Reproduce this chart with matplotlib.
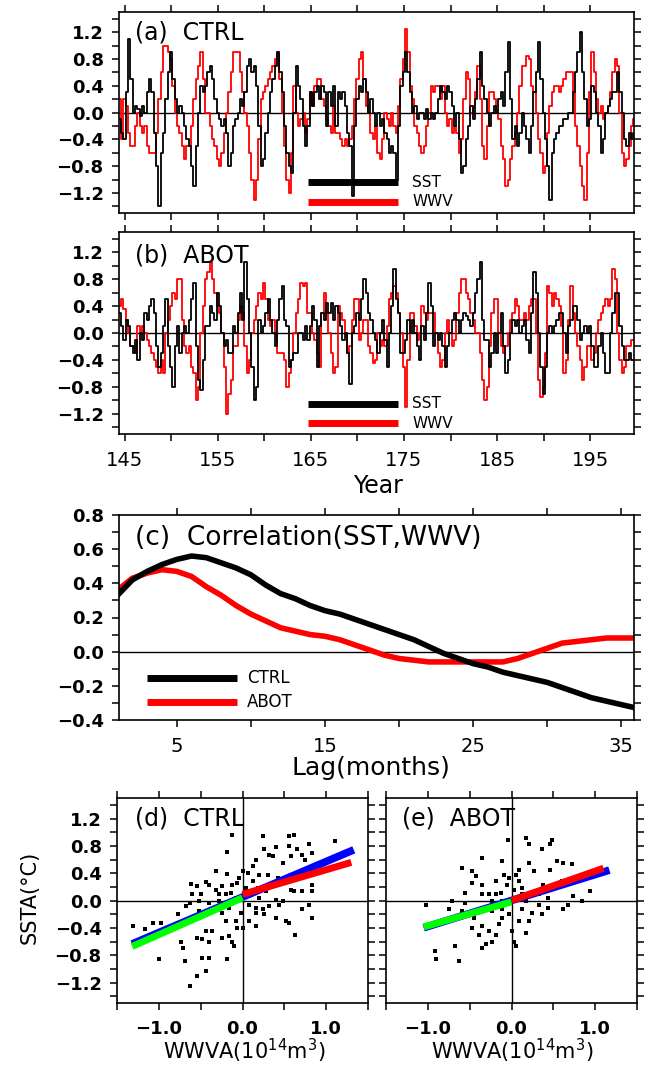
import numpy as np
import matplotlib
matplotlib.use("Agg")
import matplotlib.pyplot as plt

plt.rcParams['font.family'] = ['DejaVu Sans']

# ---------------- data ----------------
# quarterly anomalies, first sample at year 144.5
year_start = 144.5
year_step = 0.25

ctrl_sst = [
    -0.1, -0.3,
    -0.4, 0.3, 1.1, 0.5,    0.0, 0.1, 0.05, -0.05,  0.1, 0.0, 0.3, 0.5,
    0.3, -0.3, -0.8, -1.4,  -0.6, -0.3, 0.2, 0.6,   0.9, 0.5, 0.2, 0.0,
    0.1, 0.0, -0.2, -0.4,   -0.5, -0.8, -1.1, -0.5, 0.0, 0.4, 0.3, 0.4,
    0.6, 0.7, 0.5, 0.2,     0.0, -0.1, -0.2, -0.1,  -0.3, -0.8, -0.6, -0.2,
    -0.1, 0.0, 0.2, 0.1,    0.3, 0.7, 0.8, 0.6,     0.7, 0.4, -0.2, -0.8,
    -0.7, -0.3, 0.0, 0.3,   0.5, 0.7, 0.9, 0.6,     0.3, -0.2, -0.6, -0.8,
    -0.9, 0.0, 0.7, 0.4,    0.2, -0.2, -0.5, -0.2,  0.3, 0.1, 0.3, 0.4,
    0.2, 0.4, 0.3, -0.2,    0.3, 0.1, 0.4, -0.2,    0.3, 0.2, 0.3, 0.1,
    -0.3, -0.5, -1.25, -0.2, 0.2, 0.4, 0.3, 0.5,    0.3, 0.0, 0.2, 0.0,
    -0.2, 0.0, -0.2, -0.1,  -0.3, -0.4, -0.6, -0.5, -0.6, -1.0, -0.2, 0.4,
    0.6, 0.9, 0.6, 0.3,     0.0, 0.1, -0.1, 0.0,    0.0, -0.1, 0.05, -0.1,
    0.0, -0.1, 0.0, 0.2,    0.4, 0.3, 0.2, 0.4,     0.3, 0.1, -0.2, 0.0,
    -0.4, -0.9, -0.8, -0.4, -0.2, 0.1, -0.1, 0.2,   0.5, 0.9, 0.4, 0.2,
    0.0, -0.2, 0.0, 0.1,    0.0, 0.2, 0.3, 0.1,     0.6, 1.05, 0.2, -0.4,
    -0.2, -0.5, -0.3, 0.0,  -0.2, -0.4, -0.6, -0.2, 0.3, 0.6, 1.05, 0.5,
    0.0, -0.4, -0.8, -1.3,  -0.6, -0.4, -0.3, -0.2, -0.2, -0.1, -0.1, 0.0,
    0.0, 0.3, 0.6, 0.9,     1.2, 0.6, 0.2, -0.2,    -0.1, 0.4, 0.3, 0.0,
    -0.2, -0.6, -0.4, 0.0,  0.1, 0.2, 0.3, 0.3,     0.6, 0.3, 0.0, -0.4,
    -0.5, -0.3, -0.4, -0.3,
]

ctrl_wwv = [
    0.2, -0.4,
    0.2, 0.1, -0.3, -0.5,   -0.5, -0.2, 0.0, -0.2,  -0.3, -0.2, -0.5, -0.6,
    -0.6, -0.6, -0.3, 0.2,  0.6, 1.0, 1.0, 0.9,     0.8, 0.4, 0.0, -0.2,
    -0.3, -0.5, -0.7, -0.5, -0.5, -0.2, 0.2, 0.5,   0.7, 0.9, 0.5, 0.0,
    0.0, -0.2, -0.4, -0.5,  -0.7, -0.8, -0.6, -0.3, 0.0, 0.3, 0.6, 0.9,
    0.9, 0.9, 0.6, 0.3,     0.0, -0.2, -0.6, -1.0,  -1.3, -1.0, -0.4, 0.2,
    0.3, 0.4, 0.5, 0.6,     0.7, 0.8, 0.9, 0.5,     0.0, -0.5, -1.0, -1.2,
    -0.6, 0.4, 0.0, -0.2,   -0.1, 0.0, -0.3, -0.1,  0.3, 0.1, 0.4, 0.5,
    0.5, 0.2, 0.1, -0.1,    -0.2, -0.3, 0.1, -0.3,  -0.3, -0.4, -0.5, -0.4,
    -0.5, -0.4, -0.2, 0.2,  0.5, 0.8, 0.9, 0.5,     0.1, 0.0, -0.3, -0.4,
    -0.2, -0.6, -0.7, -0.4, 0.0, -0.1, -0.2, 0.0,   -0.2, -0.3, 0.1, 0.5,
    0.8, 1.25, 0.9, 0.4,    0.2, -0.2, -0.3, -0.5,  -0.6, -0.5, -0.2, 0.0,
    0.4, 0.3, 0.4, 0.4,     0.2, 0.4, 0.0, -0.2,    -0.1, -0.3, -0.2, -0.3,
    -0.6, -0.4, 0.2, 0.6,   0.5, 0.0, 0.1, 0.3,     0.7, 0.2, -0.5, -0.7,
    -0.2, 0.3, 0.3, 0.2,    0.0, -0.1, -0.5, -0.7,  -1.1, -1.0, -0.7, -0.5,
    -0.3, 0.0, 0.4, 0.7,    0.7, 0.85, 0.8, 0.4,    0.3, 0.0, -0.4, -0.6,
    -0.9, -0.8, -0.3, 0.1,  0.3, 0.4, 0.4, 0.3,     0.4, 0.5, 0.6, 0.6,
    0.6, 0.3, -0.2, -0.5,   -0.8, -1.1, -1.3, -0.6, 0.3, 0.9, 0.6, 0.2,
    0.0, 0.1, -0.1, 0.0,    0.1, 0.3, 0.6, 0.8,     0.7, 0.0, -0.6, -0.8,
    -0.7, -0.5, -0.2, -0.1,
]

abot_sst = [
    0.3, 0.1,
    -0.1, 0.2, 0.1, -0.2,   -0.3, -0.1, -0.4, 0.0,  -0.1, 0.3, 0.2, 0.4,
    0.5, 0.3, -0.2, -0.5,   -0.3, 0.1, 0.5, -0.2,   -0.5, -0.8, -0.2, 0.1,
    -0.3, 0.0, 0.1, 0.0,    0.2, 0.5, 0.75, -0.2,   -0.7, -0.85, -0.4, 0.1,
    0.1, 0.4, 0.3, 0.2,     0.6, 0.4, 0.0, -0.2,    -0.1, -0.3, -0.3, 0.1,
    0.0, 0.3, 0.6, 0.2,     1.05, 0.5, 0.0, -0.5,   -1.0, -0.8, 0.2, 0.0,
    0.1, 0.3, 0.5, 0.2,     0.0, -0.2, 0.2, 0.5,    0.7, 0.2, 0.1, -0.5,
    -0.4, -0.3, -0.3, 0.0,  0.0, -0.1, 0.1, -0.1,   0.1, 0.4, 0.2, -0.5,
    0.1, 0.3, 0.2, 0.45,    0.3, 0.45, 0.2, 0.4,    0.3, 0.1, -0.1, 0.0,
    -0.3, -0.75, 0.0, 0.1,  0.3, 0.2, 0.5, 0.8,     0.6, 0.3, 0.2, 0.0,
    -0.1, -0.3, 0.0, 0.2,   -0.1, -0.5, 0.0, 0.4,   0.95, 0.5, 0.3, -0.3,
    -0.3, -0.1, 0.2, 0.0,   0.2, 0.0, -0.2, -0.4,   0.1, -0.1, 0.3, 0.75,
    0.4, -0.2, 0.0, -0.1,   0.0, -0.2, -0.5, -0.2,  0.0, 0.2, 0.3, 0.2,
    0.0, 0.2, 0.3, 0.25,    0.2, 0.1, 0.3, 0.6,     0.8, 1.05, 0.2, -0.1,
    -0.1, -0.5, -0.3, 0.0,  -0.3, 0.0, 0.3, -0.2,   -0.6, -0.4, 0.0, 0.2,
    0.1, 0.2, 0.0, 0.1,     0.2, -0.1, -0.3, 0.3,   0.9, 0.6, 0.0, -0.5,
    -0.9, -0.5, 0.0, 0.1,   0.0, 0.1, 0.2, 0.3,     0.3, 0.0, -0.3, 0.1,
    0.2, 0.4, 0.4, 0.2,     -0.1, 0.0, 0.1, 0.0,    0.1, -0.2, -0.5, -0.5,
    -0.2, 0.0, -0.3, -0.6,  -0.6, 0.0, 0.3, 0.6,    0.6, 0.1, -0.2, -0.4,
    -0.4, -0.3, -0.4, -0.4,
]

abot_wwv = [
    0.4, 0.5,
    0.35, 0.2, 0.0, -0.2,   -0.2, -0.3, 0.1, 0.0,   0.1, 0.0, -0.1, -0.2,
    -0.3, -0.4, -0.5, -0.6, -0.4, -0.6, 0.0, 0.2,   0.4, 0.6, 0.5, 0.8,
    0.8, 0.2, -0.2, -0.3,   -0.2, -0.5, -0.6, -1.0, -0.8, 0.0, 0.4, 0.8,
    0.9, 1.05, 0.8, 0.6,    0.4, 0.3, 0.0, -0.5,    -1.2, -0.9, -0.7, -0.2,
    -0.2, 0.2, 0.4, 0.3,    -0.2, -0.6, -0.4, 0.0,  0.2, 0.4, 0.6, 0.5,
    0.75, 0.5, 0.2, 0.1,    0.2, 0.0, -0.3, -0.3,   -0.3, -0.4, -0.8, -0.6,
    -0.4, 0.0, 0.3, 0.5,    0.75, 0.7, 0.75, 0.3,   0.3, 0.0, -0.1, -0.3,
    -0.5, 0.3, 0.6, 0.3,    0.0, -0.3, -0.6, -0.5,  0.4, 0.3, 0.2, 0.0,
    -0.3, -0.2, 0.2, 0.5,   0.5, -0.1, 0.0, 0.2,    0.2, -0.2, -0.3, -0.45,
    -0.4, 0.0, -0.2, -0.1,  -0.2, 0.1, 0.5, 0.6,    0.7, 0.6, 0.3, 0.0,
    -0.5, -1.1, -0.4, 0.3,  0.3, 0.1, -0.1, 0.0,    0.4, 0.3, 0.2, 0.3,
    0.3, 0.3, 0.0, -0.3,    -0.5, -0.4, 0.0, 0.2,   0.0, -0.2, -0.1, 0.3,
    0.6, 0.8, 0.8, 0.6,     0.5, 0.3, 0.2, 0.0,     0.0, -0.3, -0.7, -1.0,
    -0.8, -0.2, 0.3, 0.5,   0.5, 0.0, -0.2, -0.3,   -0.2, 0.0, 0.2, 0.3,
    0.5, 0.4, 0.2, 0.2,     0.3, 0.2, 0.4, 0.5,     0.5, 0.0, -0.7, -0.95,
    -0.8, -0.3, 0.7, 0.6,   0.4, 0.6, 0.5, 0.4,     0.1, -0.6, -0.4, 0.2,
    0.7, 0.3, 0.0, -0.2,    -0.4, -0.7, -0.5, -0.2, -0.2, -0.4, -0.3, 0.0,
    0.2, 0.3, 0.4, 0.5,     0.4, 0.5, 0.95, 0.8,    0.0, -0.4, -0.6, -0.5,
    -0.2, -0.2, -0.1, -0.1,
]

year_ticks = [145, 150, 155, 160, 165, 170, 175, 180, 185, 190, 195]
year_ticklabels = ['145', '', '155', '', '165', '', '175', '', '185', '', '195']

# anomaly axis ticks shared by panels a, b, d, e
anom_ticks = [-1.4, -1.2, -1.0, -0.8, -0.6, -0.4, -0.2, 0.0,
              0.2, 0.4, 0.6, 0.8, 1.0, 1.2, 1.4]
anom_ticklabels = ['', '\u22121.2', '', '\u22120.8', '', '\u22120.4', '', '0.0',
                   '', '0.4', '', '0.8', '', '1.2', '']

# lagged correlation SST vs WWV, lags 1..36 months
lags = list(range(1, 37))
corr_ctrl = [0.33, 0.42, 0.47, 0.51, 0.54, 0.56, 0.55, 0.52, 0.49, 0.45,
             0.39, 0.34, 0.31, 0.27, 0.24, 0.22, 0.19, 0.16, 0.13, 0.10,
             0.07, 0.03, -0.01, -0.04, -0.07, -0.09, -0.12, -0.14, -0.16, -0.18,
             -0.21, -0.24, -0.27, -0.29, -0.31, -0.33]
corr_abot = [0.36, 0.43, 0.46, 0.48, 0.47, 0.44, 0.38, 0.33, 0.27, 0.22,
             0.18, 0.14, 0.12, 0.10, 0.09, 0.07, 0.04, 0.01, -0.02, -0.04,
             -0.05, -0.06, -0.06, -0.06, -0.06, -0.06, -0.06, -0.04, -0.01, 0.02,
             0.05, 0.06, 0.07, 0.08, 0.08, 0.08]
lag_ticks = [5, 10, 15, 20, 25, 30, 35]
lag_ticklabels = ['5', '', '15', '', '25', '', '35']
corr_ticks = [-0.4, -0.3, -0.2, -0.1, 0.0, 0.1, 0.2, 0.3, 0.4, 0.5, 0.6, 0.7, 0.8]
corr_ticklabels = ['\u22120.4', '', '\u22120.2', '', '0.0', '', '0.2', '',
                   '0.4', '', '0.6', '', '0.8']

# scatter: WWV anomaly vs SST anomaly
d_wwva = [1.11, 0.62, 0.56, 0.24, -0.12, -0.18, 0.26, 0.32, 0.36, 0.40,
          0.56, 0.65, 0.71, 0.79, 0.83, 0.75, 0.58, 0.48, 0.16, 0.12,
          0.06, 0.20, 0.30, 0.42, -0.32, -0.18, -0.44, -0.40, -0.62, -0.54,
          -0.32, -0.24, -0.12, -0.06, -0.28, -0.20, -0.14, -0.63, -0.52, -0.40,
          -0.08, 0.08, 0.16, 0.24, 0.32, 0.44, 0.79, 0.71, 0.83, 0.62,
          0.58, 0.83, 0.26, 0.40, 0.52, 0.63, 0.56, 0.08, 0.16, 0.00,
          -0.08, -0.20, -0.16, -0.10, -0.24, -0.36, -0.44, -0.48, -0.40, -0.54,
          -0.71, -0.73, -0.77, -0.83, -0.97, -1.07, -1.17, -1.31, -1.00, -0.69,
          -0.48, -0.40, -0.18, -0.44, -0.54, -0.63, 0.83, 0.71, 0.12, 0.04,
          0.18, 0.28, -0.04, 0.00, -0.28, -0.36, -0.52, -0.24, 0.08, 0.20,
          0.40, 0.16, -0.02, -0.16, -0.67, -0.50, -0.60, 0.48, -0.06, -0.12]
d_ssta = [0.87, 0.96, 0.94, 0.94, 0.96, 0.71, 0.75, 0.67, 0.65, 0.78,
          0.80, 0.75, 0.67, 0.82, 0.70, 0.60, 0.65, 0.55, 0.60, 0.50,
          0.40, 0.38, 0.38, 0.33, 0.43, 0.39, 0.27, 0.23, 0.24, 0.21,
          0.16, 0.21, 0.23, 0.26, 0.09, 0.09, 0.11, -0.03, -0.01, -0.03,
          0.04, -0.06, -0.11, -0.13, -0.08, -0.06, -0.06, -0.13, -0.25, 0.14,
          0.16, 0.23, -0.20, -0.25, -0.30, -0.50, -0.33, -0.30, -0.38, -0.40,
          -0.30, -0.30, -0.52, -0.67, -0.55, -0.45, -0.45, -0.57, -0.60, -0.55,
          -0.69, -0.60, -0.20, -0.38, -0.33, -0.33, -0.42, -0.38, -0.85, -0.88,
          -0.84, -0.84, -0.86, -1.03, -1.11, -1.25, 0.14, 0.14, 0.28, 0.19,
          0.19, 0.14, 0.33, 0.43, -0.01, -0.13, -0.16, -0.18, 0.09, 0.04,
          0.01, -0.18, -0.18, -0.11, -0.08, 0.09, 0.09, -0.01, -0.40, -0.60]

e_wwva = [-0.04, 0.17, 0.21, 0.48, 0.37, 0.46, -0.11, -0.35, -0.59, 0.21,
          0.27, 0.54, 0.62, 0.72, 0.46, -0.43, -0.47, -0.35, -0.55, -0.71,
          -1.02, -0.19, -0.09, -0.03, 0.05, 0.09, -0.05, 0.03, -0.13, -0.27,
          0.38, 0.48, 0.60, 0.94, 0.74, 0.62, 0.44, 0.33, 0.25, 0.13,
          0.09, -0.03, -0.11, -0.23, -0.35, -0.45, -0.35, -0.27, -0.19, -0.31,
          -0.35, 0.03, 0.05, 0.17, 0.01, -0.67, -0.92, -0.90, -0.63, -0.47,
          -0.15, 0.21, 0.37, 0.68, 0.13, 0.25, -0.55, -0.11, -0.23, -0.59,
          -0.75, -0.19, 0.17, 0.33, 0.44, 0.84, 0.13, -0.11, -0.39, -0.23,
          -0.47, -0.35, 0.09]
e_ssta = [0.89, 0.92, 0.82, 0.89, 0.75, 0.82, 0.58, 0.62, 0.48, 0.55,
          0.43, 0.58, 0.55, 0.53, 0.45, 0.36, 0.26, 0.23, 0.11, -0.01,
          -0.06, 0.28, 0.38, 0.33, 0.38, 0.28, 0.23, 0.16, 0.11, 0.09,
          0.23, 0.19, 0.28, 0.14, 0.06, -0.13, -0.11, -0.06, -0.18, -0.13,
          -0.30, -0.20, -0.13, -0.16, -0.11, -0.25, -0.38, -0.45, -0.50, -0.64,
          -0.69, -0.60, -0.67, -0.47, -0.45, -0.67, -0.74, -0.86, -0.89, -0.40,
          -0.35, -0.30, -0.20, -0.06, 0.09, 0.11, -0.03, -0.01, -0.01, -0.16,
          -0.13, 0.09, -0.01, 0.09, 0.04, -0.01, 0.19, -0.25, -0.50, -0.60,
          0.43, 0.09, 0.45]

wwva_ticks = [-1.5, -1.0, -0.5, 0.0, 0.5, 1.0, 1.5]
wwva_ticklabels = ['', '\u22121.0', '', '0.0', '', '1.0', '']

# regression lines: (slope, intercept, x_min, x_max)
d_fit_all = [0.52, 0.05, -1.32, 1.33]
d_fit_neg = [0.54, 0.04, -1.32, 0.0]
d_fit_pos = [0.36, 0.09, 0.0, 1.30]
e_fit_all = [0.38, 0.00, -1.05, 1.17]
e_fit_neg = [0.35, -0.02, -1.05, 0.0]
e_fit_pos = [0.43, 0.00, 0.0, 1.10]

# ---------------- figure ----------------
W, H = 648, 1065
fig = plt.figure(figsize=(W / 100, H / 100), dpi=100)


def box(l, r, t, b):
    return [l / W, 1 - b / H, (r - l) / W, (b - t) / H]


TICKFONT = dict(fontsize=13, fontweight='bold')


def style(ax):
    for s in ax.spines.values():
        s.set_linewidth(1.2)
    ax.tick_params(which='both', direction='out', length=5, width=1.1,
                   top=True, right=True, labeltop=False, labelright=False)
    ax.tick_params(axis='x', pad=7)
    ax.tick_params(axis='y', pad=6)


def anomaly_yaxis(ax, labels=True):
    ax.set_ylim(-1.5, 1.5)
    ax.set_yticks(anom_ticks)
    if labels:
        ax.set_yticklabels(anom_ticklabels, **TICKFONT)
    else:
        ax.set_yticklabels([])


t = year_start + year_step * np.arange(len(ctrl_sst))

panels_ts = [
    (box(119, 634, 12, 213), ctrl_sst, ctrl_wwv, '(a)  CTRL', 0.896, 0.154, 0.055),
    (box(119, 634, 232, 434), abot_sst, abot_wwv, '(b)  ABOT', 0.886, 0.149, 0.054),
]
for i, (rect, sst, wwv, title, ty, ly1, ly2) in enumerate(panels_ts):
    ax = fig.add_axes(rect)
    style(ax)
    ax.axhline(0, color='black', lw=1.0, zorder=1)
    ax.plot(t, wwv, color='#ff0000', lw=1.3, drawstyle='steps-mid', zorder=2)
    ax.plot(t, sst, color='black', lw=1.3, drawstyle='steps-mid', zorder=3)
    ax.set_xlim(144.4, 199.7)
    ax.set_xticks(year_ticks)
    if i == 1:
        ax.set_xticklabels(year_ticklabels, fontsize=14)
    else:
        ax.set_xticklabels([])
    anomaly_yaxis(ax)
    ax.text(0.031, ty, title, transform=ax.transAxes, fontsize=17,
            va='center', ha='left')
    ax.plot([0.367, 0.542], [ly1, ly1], transform=ax.transAxes, color='black',
            lw=5, solid_capstyle='butt', zorder=5)
    ax.plot([0.367, 0.542], [ly2, ly2], transform=ax.transAxes, color='#ff0000',
            lw=5, solid_capstyle='butt', zorder=5)
    ax.text(0.569, ly1, 'SST', transform=ax.transAxes, fontsize=11,
            va='center', ha='left')
    ax.text(0.569, ly2, 'WWV', transform=ax.transAxes, fontsize=11,
            va='center', ha='left')

fig.text(378 / W, 1 - 486 / H, 'Year', fontsize=17, ha='center', va='center')

# (c) lagged correlation
axc = fig.add_axes(box(119, 634, 515, 720))
style(axc)
axc.axhline(0, color='black', lw=1.0, zorder=1)
axc.plot(lags, corr_ctrl, color='black', lw=4, zorder=3)
axc.plot(lags, corr_abot, color='#ff0000', lw=4, zorder=2)
axc.set_xlim(1.1, 35.85)
axc.set_ylim(-0.4, 0.8)
axc.set_xticks(lag_ticks)
axc.set_xticklabels(lag_ticklabels, fontsize=14)
axc.set_yticks(corr_ticks)
axc.set_yticklabels(corr_ticklabels, **TICKFONT)
axc.text(0.031, 0.888, '(c)  Correlation(SST,WWV)', transform=axc.transAxes,
         fontsize=19, va='center', ha='left')
axc.plot([0.054, 0.229], [0.205, 0.205], transform=axc.transAxes, color='black',
         lw=5, solid_capstyle='butt')
axc.plot([0.054, 0.229], [0.088, 0.088], transform=axc.transAxes, color='#ff0000',
         lw=5, solid_capstyle='butt')
axc.text(0.249, 0.205, 'CTRL', transform=axc.transAxes, fontsize=12, va='center')
axc.text(0.249, 0.088, 'ABOT', transform=axc.transAxes, fontsize=12, va='center')
fig.text(371 / W, 1 - 768 / H, 'Lag(months)', fontsize=18, ha='center', va='center')


# (d), (e) scatter with fitted lines
def fit_line(ax, fit, color, lw, z):
    slope, icpt, x0, x1 = fit
    xs = np.array([x0, x1])
    ax.plot(xs, slope * xs + icpt, color=color, lw=lw, solid_capstyle='butt', zorder=z)


scat_panels = [
    (box(117, 368, 798, 1003), d_wwva, d_ssta, d_fit_all, d_fit_neg, d_fit_pos,
     '(d)  CTRL', 0.072, True, 244),
    (box(386, 637, 798, 1003), e_wwva, e_ssta, e_fit_all, e_fit_neg, e_fit_pos,
     '(e)  ABOT', 0.063, False, 512),
]
for rect, xs, ys, fa, fn, fp, title, tx, ylab, xlab_c in scat_panels:
    ax = fig.add_axes(rect)
    style(ax)
    ax.axhline(0, color='black', lw=1.0, zorder=1)
    ax.axvline(0, color='black', lw=1.0, zorder=1)
    ax.scatter(xs, ys, s=11, marker='s', color='black', linewidths=0, zorder=2)
    fit_line(ax, fa, '#0000ff', 5.5, 3)
    fit_line(ax, fn, '#00ff00', 5.0, 4)
    fit_line(ax, fp, '#ff0000', 5.0, 4)
    ax.set_xlim(-1.5, 1.5)
    ax.set_xticks(wwva_ticks)
    ax.set_xticklabels(wwva_ticklabels, **TICKFONT)
    anomaly_yaxis(ax, labels=ylab)
    ax.text(tx, 0.902, title, transform=ax.transAxes, fontsize=17,
            va='center', ha='left')
    fig.text(xlab_c / W, 1 - 1051 / H, r'WWVA(10$^{14}$m$^3$)', fontsize=15,
             ha='center', va='center')

fig.text(30 / W, 1 - 897 / H, 'SSTA(\u00b0C)', fontsize=15, rotation=90,
         ha='center', va='center')

fig.savefig('out.png', dpi=100)
